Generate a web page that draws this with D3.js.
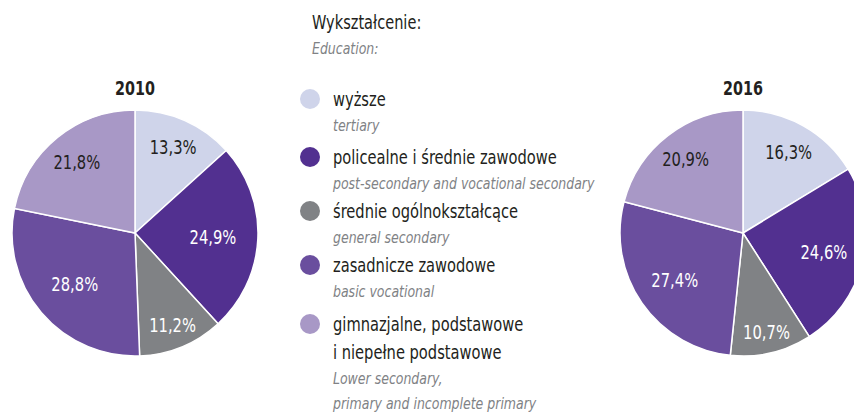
<!DOCTYPE html>
<html><head><meta charset="utf-8">
<script src="https://cdn.jsdelivr.net/npm/d3@7"></script>
<style>
html,body{margin:0;padding:0;background:#fff;overflow:hidden}
svg{display:block;font-family:"DejaVu Sans Condensed","DejaVu Sans",sans-serif;font-stretch:condensed}
</style></head><body>
<svg id="c" width="854" height="413"></svg>
<script>
const categoriesPL = ["wyższe","policealne i średnie zawodowe","średnie ogólnokształcące","zasadnicze zawodowe","gimnazjalne, podstawowe|i niepełne podstawowe"];
const categoriesEN = ["tertiary","post-secondary and vocational secondary","general secondary","basic vocational","Lower secondary,|primary and incomplete primary"];
const years = ["2010","2016"];
const values2010 = [13.3,24.9,11.2,28.8,21.8];
const values2016 = [16.3,24.6,10.7,27.4,20.9];
const legendTitlePL = "Wykształcenie:";
const legendTitleEN = "Education:";

const colors = ["#cfd4ea","#523090","#808285","#6a4e9e","#a898c6"];
const labelColors = ["#231f20","#ffffff","#ffffff","#ffffff","#231f20"];
const labelRadii = [[94,78,99,79,92],[93,83,102,83,94]];

const svg = d3.select("#c");
const R = 123;
const centers = [[135,233],[743,233]];
const pie = d3.pie().sort(null).value(d=>d);
const arc = d3.arc().innerRadius(0).outerRadius(R);
const fmt = v => d3.format(".1f")(v).replace(".", ",") + "%";

function ctext(parent, x, y, str, size, sx, opts={}) {
  const t = parent.append("text")
    .attr("transform", `translate(${x},${y}) scale(${sx},1)`)
    .attr("font-size", size).attr("fill", opts.fill || "#231f20")
    .text(str);
  if (opts.anchor) t.attr("text-anchor", opts.anchor);
  if (opts.italic) t.attr("font-style", "italic");
  if (opts.bold) t.attr("font-weight", "bold");
  if (opts.dy) t.attr("dy", opts.dy);
  return t;
}

[values2010, values2016].forEach((vals, i) => {
  const g = svg.append("g").attr("transform", `translate(${centers[i][0]},${centers[i][1]})`);
  const arcs = pie(vals);
  g.selectAll("path").data(arcs).join("path")
    .attr("d", arc).attr("fill", (d,j)=>colors[j])
    .attr("stroke","#fff").attr("stroke-width",1.5);
  arcs.forEach((d,j)=>{
    const a = (d.startAngle+d.endAngle)/2;
    ctext(g, Math.sin(a)*labelRadii[i][j], -Math.cos(a)*labelRadii[i][j], fmt(d.data), 20, 0.82,
      {anchor:"middle", dy:"0.36em", fill:labelColors[j]});
  });
  ctext(svg, centers[i][0], 95, years[i], 19, 0.84, {anchor:"middle", bold:true});
});

const lx = 312;
ctext(svg, lx, 29, legendTitlePL, 20, 0.81);
ctext(svg, lx, 54, legendTitleEN, 16, 0.87, {italic:true, fill:"#808285"});

const itemY = [106,164,218,272,331];
const lineH = 25, enGap = 25;
categoriesPL.forEach((c,i)=>{
  const y = itemY[i];
  svg.append("circle").attr("cx",310).attr("cy",y-7).attr("r",10).attr("fill",colors[i]);
  const pl = c.split("|");
  pl.forEach((t,k)=>{
    ctext(svg, 333, y+k*28, t, 20, 0.815);
  });
  const en = categoriesEN[i].split("|");
  en.forEach((t,k)=>{
    ctext(svg, 333, y+(pl.length-1)*28+enGap+k*lineH, t, 16, 0.87, {italic:true, fill:"#808285"});
  });
});
</script></body></html>
